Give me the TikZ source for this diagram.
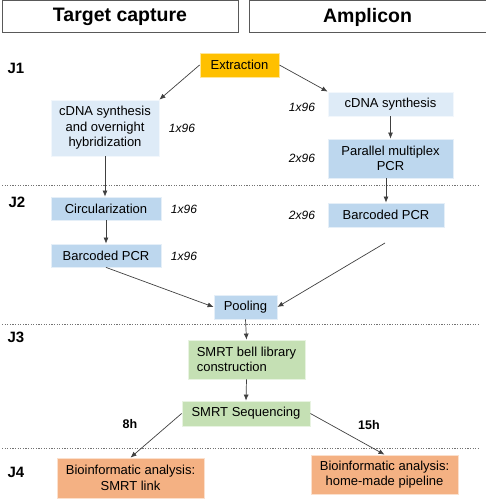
\documentclass[tikz,border=0pt]{standalone}
\usepackage{fontspec}
\setmainfont{Liberation Sans}
\usepackage[rgb]{xcolor}
\usetikzlibrary{arrows.meta}

\definecolor{extractcol}{HTML}{FFC000}
\definecolor{palecol}{HTML}{DEEBF7}
\definecolor{bluecol}{HTML}{BDD7EE}
\definecolor{smrtcol}{HTML}{C5E0B4}
\definecolor{biocol}{HTML}{F4B183}
\definecolor{flowcol}{HTML}{404040}

\begin{document}
\begin{tikzpicture}[x=1pt, y=-1pt,
  stepbox/.style={draw=white!60!#1, fill=#1, line width=0.8pt, inner sep=0pt,
    align=center, font=\fontsize{13}{15.5}\selectfont},
  headbox/.style={draw=black!65, line width=1pt, inner sep=0pt,
    minimum width=236pt, minimum height=32pt, font=\fontsize{19.5}{22}\selectfont\bfseries},
  daylabel/.style={font=\fontsize{15}{17}\selectfont\bfseries},
  runs/.style={font=\fontsize{12}{14}\selectfont\itshape},
  hours/.style={font=\fontsize{12.5}{14}\selectfont\bfseries},
  flow/.style={draw=flowcol, line width=0.7pt, -{Latex[length=6pt,width=5pt]}},
  dayline/.style={draw=black!55, line width=0.8pt, dash pattern=on 1.2pt off 1.4pt}]

\useasboundingbox (0,0) rectangle (486,500);


% Headers
\path
(120,17) node [headbox] (tc) {Target capture};
\path
(367.5,17) node [headbox, minimum width=237pt] (amp) {Amplicon};


% Day lines
\draw[dayline] (2,185) -- (478,185);
\draw[dayline] (2,324) -- (478,324);
\draw[dayline] (2,448) -- (478,448);

\path
(16,68) node [daylabel] (j1) {J1}
(17,202) node [daylabel] (j2) {J2}
(16,337) node [daylabel] (j3) {J3}
(16,472) node [daylabel] (j4) {J4};


% Extraction
\path
(239.5,65) node [stepbox=extractcol, minimum width=79pt, minimum height=24pt] (extr) {Extraction};


% Target capture branch
\path
(105,128) node [stepbox=palecol, minimum width=108pt, minimum height=56pt] (cdnaL)
  {cDNA synthesis\\and overnight\\hybridization};
\path
(182,128) node [runs] (runA) {1x96};

\path
(106,208.5) node [stepbox=bluecol, minimum width=110pt, minimum height=23pt] (circ) {Circularization};
\path
(184,209) node [runs] (runB) {1x96};

\path
(106,255.5) node [stepbox=bluecol, minimum width=110pt, minimum height=23pt] (bpcrL) {Barcoded PCR};
\path
(184,256) node [runs] (runC) {1x96};


% Amplicon branch
\path
(390.5,104) node [stepbox=palecol, minimum width=125pt, minimum height=24pt] (cdnaR) {cDNA synthesis};
\path
(302,107) node [runs] (runD) {1x96};

\path
(390.5,158.5) node [stepbox=bluecol, minimum width=125pt, minimum height=39pt] (mplex)
  {Parallel multiplex\\PCR};
\path
(302,158) node [runs] (runE) {2x96};

\path
(386,215) node [stepbox=bluecol, minimum width=116pt, minimum height=24pt] (bpcrR) {Barcoded PCR};
\path
(302,215) node [runs] (runF) {2x96};
\coordinate (bpcrRtail) at (385,243);


% Pooling and sequencing
\path
(245.5,307) node [stepbox=bluecol, minimum width=63pt, minimum height=24pt] (pool) {Pooling};

\path
(246.5,359.5) node [stepbox=smrtcol, minimum width=117pt, minimum height=39pt, align=left] (bell)
  {SMRT bell library\\construction};

\path
(246,413.5) node [stepbox=smrtcol, minimum width=128pt, minimum height=25pt] (seq) {SMRT Sequencing};

\path
(130,424) node [hours] (hL) {8h}
(369,425) node [hours] (hR) {15h};


% Analysis
\path
(130.5,478) node [stepbox=biocol, minimum width=147pt, minimum height=40pt] (bioL)
  {Bioinformatic analysis:\\SMRT link};
\path
(384.5,474.5) node [stepbox=biocol, minimum width=147pt, minimum height=39pt] (bioR)
  {Bioinformatic analysis:\\home-made pipeline};


% Arrows
\draw[flow] (extr.west) -- (cdnaL.north east);
\draw[flow] (extr.east) -- (cdnaR.north west);
\draw[flow] (cdnaL.south) -- (cdnaL.south |- circ.north);
\draw[flow] (circ.south) -- (bpcrL.north);
\draw[flow] (cdnaR.south) -- (mplex.north);
\draw[flow] (mplex.south -| bpcrR.north) -- (bpcrR.north);
\draw[flow] (bpcrL.south) -- (pool.west);
\draw[flow] (bpcrRtail) -- (pool.east);
\draw[flow] (pool.south) -- (bell.north);
\draw[flow] (bell.south) -- (seq.north);
\draw[flow] (seq.west) -- (bioL.north);
\draw[flow] (seq.east) -- (bioR.north);

\end{tikzpicture}
\end{document}
